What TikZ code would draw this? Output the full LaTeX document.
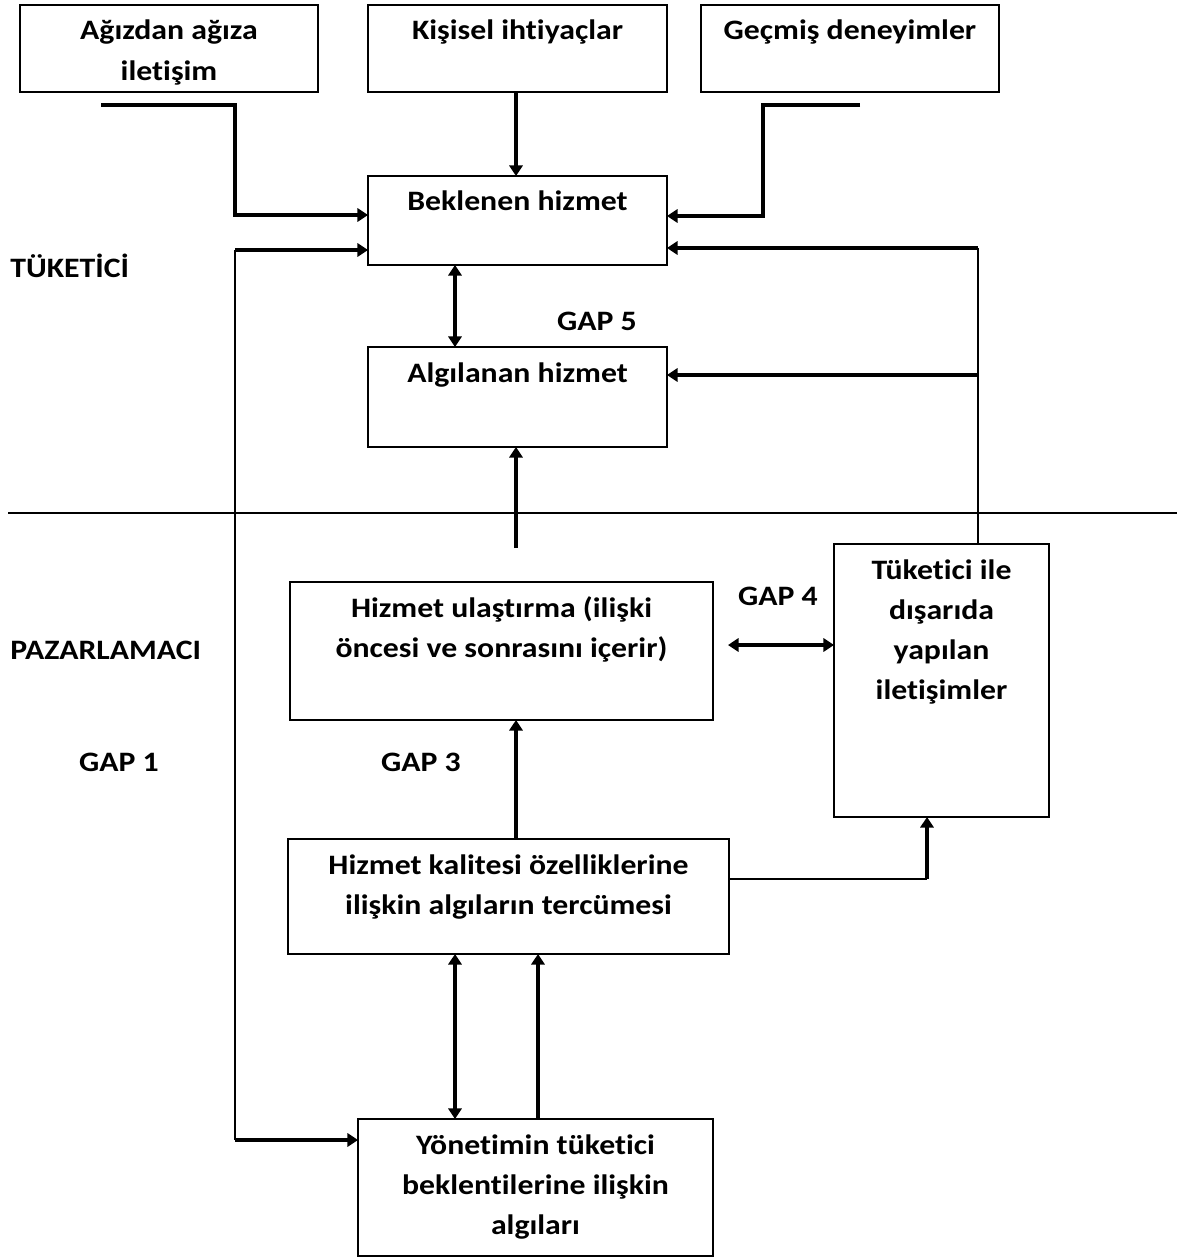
\documentclass[tikz,border=0pt]{standalone}
\usepackage{fontspec}
\setmainfont{Carlito}[FakeStretch=1.13, Ligatures=NoCommon]
\usetikzlibrary{arrows.meta,calc}

\begin{document}
\begin{tikzpicture}[x=0.02cm,y=-0.02cm,
  box/.style={draw, line width=0.8pt, inner sep=0pt, outer sep=0pt, anchor=north west},
  txt/.style={font=\bfseries\fontsize{16}{22.8}\selectfont, inner sep=0pt, anchor=base},
  side/.style={font=\bfseries\fontsize{16}{22.8}\selectfont, inner sep=0pt},
  tip/.tip={Triangle[length=6pt,width=7.5pt]},
  flow/.style={line width=2pt, -tip},
  both/.style={line width=2pt, tip-tip},
  thin/.style={line width=1.1pt}
]
\useasboundingbox (0,0) rectangle (1187,1260);

% boxes: name, left, top, width, height
\newcommand\bx[5]{\node[box, minimum width=#4*0.02cm, minimum height=#5*0.02cm] (#1) at (#2,#3) {};}
\bx{agiz}{20}{5}{298}{87}
\bx{kis}{368}{5}{299}{87}
\bx{gec}{701}{5}{298}{87}
\bx{bek}{368}{176}{299}{89}
\bx{alg}{368}{347}{299}{100}
\bx{ula}{290}{582}{423}{138}
\bx{tuk}{834}{544}{215}{273}
\bx{kal}{288}{839}{441}{115}
\bx{yon}{358}{1119}{355}{137}

% box texts, first baseline a fixed distance below the top edge
\newcommand\tx[3]{\node[txt] (#1) at ($(#2.north)+(0,35)$) {\setlength\tabcolsep{0pt}\begin{tabular}[t]{c}#3\end{tabular}};}
\tx{t-agiz}{agiz}{Ağızdan ağıza\\iletişim}
\tx{t-kis}{kis}{Kişisel ihtiyaçlar}
\tx{t-gec}{gec}{Geçmiş deneyimler}
\tx{t-bek}{bek}{Beklenen hizmet}
\tx{t-alg}{alg}{Algılanan hizmet}
\tx{t-ula}{ula}{Hizmet ulaştırma (ilişki\\öncesi ve sonrasını içerir)}
\tx{t-tuk}{tuk}{Tüketici ile\\dışarıda\\yapılan\\iletişimler}
\tx{t-kal}{kal}{Hizmet kalitesi özelliklerine\\ilişkin algıların tercümesi}
\tx{t-yon}{yon}{Yönetimin tüketici\\beklentilerine ilişkin\\algıları}

% side labels
\node[side, anchor=base west] (tuketici) at (10,277) {TÜKETİCİ};
\node[side, anchor=base west] (pazar) at (10,659) {PAZARLAMACI};
\node[side, anchor=base] (gap5) at (597,331) {GAP 5};
\node[side, anchor=base] (gap4) at (778,605) {GAP 4};
\node[side, anchor=base] (gap1) at (119,771) {GAP 1};
\node[side, anchor=base] (gap3) at (421,771) {GAP 3};

% divider between consumer and marketer
\coordinate (dl) at (8,513);
\coordinate (dr) at (1177,513);
\draw[line width=0.6pt] (dl) -- (dr);

% free line ends
\coordinate (w1) at (101,105);
\coordinate (w2) at (235,105);
\coordinate (e1) at (860,105);
\coordinate (e2) at (763,105);
\coordinate (s1) at (516,548);
\coordinate (lt) at (235,250);
\coordinate (lb) at (235,1140);
\coordinate (rt) at (978,248);
\coordinate (rm) at (978,375);
\coordinate (kr) at (927,879);

% inputs to expected service
\draw[flow] (w1) -- (w2) |- (bek.west |- 0,215);
\draw[flow] (kis.south -| 516,0) -- (bek.north -| 516,0);
\draw[flow] (e1) -- (e2) |- (bek.east |- 0,216);

% GAP 5
\draw[both] (bek.south -| 455,0) -- (alg.north -| 455,0);

% delivery to perceived service
\draw[flow] (s1) -- (alg.south -| s1);

% GAP 1 loop
\draw[thin] (lb) -- (lt);
\draw[flow] (lt) -- (bek.west |- lt);
\draw[flow] (lb) -- (yon.west |- lb);

% external communications back to consumer
\draw[thin] (tuk.north -| rt) -- (rt);
\draw[flow] (rt) -- (bek.east |- rt);
\draw[flow] (rm) -- (alg.east |- rm);

% GAP 4
\draw[both] (728,645) -- (tuk.west |- 0,645);

% GAP 3
\draw[flow] (kal.north -| 516,0) -- (ula.south -| 516,0);

% specifications to external communications
\draw[thin] (kal.east |- kr) -- (kr);
\draw[flow] (kr) -- (tuk.south -| kr);

% management perceptions and specifications
\draw[both] (kal.south -| 455,0) -- (yon.north -| 455,0);
\draw[flow] (yon.north -| 538,0) -- (kal.south -| 538,0);
\end{tikzpicture}
\end{document}
